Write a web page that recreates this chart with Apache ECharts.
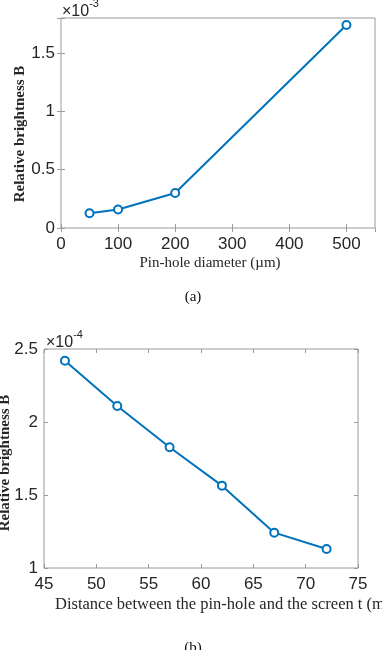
<!DOCTYPE html>
<html>
<head>
<meta charset="utf-8">
<script src="https://cdn.jsdelivr.net/npm/echarts@6/dist/echarts.min.js"></script>
<style>
html, body { margin: 0; padding: 0; background: #fff; }
#chart { width: 382px; height: 650px; }
</style>
</head>
<body>
<div id="chart"></div>
<script>
// (a) values in units of 1e-3
var diameters = [50, 100, 200, 500];
var brightA = [0.127, 0.158, 0.30, 1.74];
// (b) values in units of 1e-4
var distances = [47, 52, 57, 62, 67, 72];
var brightB = [2.42, 2.11, 1.827, 1.564, 1.242, 1.13];

var blue = "#0072BD";
var boxGray = "#9a9a9a";
var labelColor = "#262626";
var serif = "Liberation Serif";
var sans = "Liberation Sans";

function pairs(xs, ys) {
    var out = [];
    for (var i = 0; i < xs.length; i++) out.push([xs[i], ys[i]]);
    return out;
}

function xAxisOf(grid, min, max, interval, top, showMax) {
    return {
        type: "value", gridIndex: grid, min: min, max: max, interval: interval,
        position: top ? "top" : "bottom",
        axisLine: { show: false },
        splitLine: { show: false },
        axisTick: { show: true, inside: true, length: 4, lineStyle: { color: boxGray } },
        axisLabel: {
            show: !top, color: labelColor, fontFamily: sans, fontSize: 17, margin: 8,
            showMaxLabel: showMax
        }
    };
}

function yAxisOf(grid, min, max, interval, right) {
    return {
        type: "value", gridIndex: grid, min: min, max: max, interval: interval,
        position: right ? "right" : "left",
        axisLine: { show: false },
        splitLine: { show: false },
        axisTick: { show: true, inside: true, length: 4, lineStyle: { color: boxGray } },
        axisLabel: {
            show: !right, color: labelColor, fontFamily: sans, fontSize: 17, margin: 6,
            formatter: function (v) {
                if (Math.abs(v - max) < 1e-9 && (max / interval) % 1 !== 0) return "";
                return String(Math.round(v * 100) / 100);
            }
        }
    };
}

var lineSeries = function (xi, yi, data) {
    return {
        type: "line", xAxisIndex: xi, yAxisIndex: yi, data: data,
        symbol: "circle", symbolSize: 8,
        lineStyle: { color: blue, width: 2 },
        itemStyle: { color: "#fff", borderColor: blue, borderWidth: 2 }
    };
};

var chart = echarts.init(document.getElementById("chart"));
chart.setOption({
    animation: false,
    grid: [
        { left: 61, top: 18, width: 314, height: 210, show: true, borderColor: boxGray, borderWidth: 1 },
        { left: 44, top: 349, width: 314, height: 219, show: true, borderColor: boxGray, borderWidth: 1 }
    ],
    xAxis: [
        xAxisOf(0, 0, 550, 100, false, false),
        xAxisOf(0, 0, 550, 100, true, false),
        xAxisOf(1, 45, 75, 5, false, true),
        xAxisOf(1, 45, 75, 5, true, true)
    ],
    yAxis: [
        yAxisOf(0, 0, 1.8, 0.5, false),
        yAxisOf(0, 0, 1.8, 0.5, true),
        yAxisOf(1, 1, 2.5, 0.5, false),
        yAxisOf(1, 1, 2.5, 0.5, true)
    ],
    series: [
        lineSeries(0, 0, pairs(diameters, brightA)),
        lineSeries(2, 2, pairs(distances, brightB))
    ],
    graphic: [
        {
            type: "text", left: 62, top: -2,
            style: {
                text: "{a|×10}{s|-3}", fill: labelColor,
                rich: {
                    a: { fontFamily: sans, fontSize: 16, fill: labelColor, padding: [6, 0, 0, 0] },
                    s: { fontFamily: sans, fontSize: 11, fill: labelColor, verticalAlign: "top" }
                }
            }
        },
        {
            type: "text", left: 46, top: 329,
            style: {
                text: "{a|×10}{s|-4}", fill: labelColor,
                rich: {
                    a: { fontFamily: sans, fontSize: 16, fill: labelColor, padding: [6, 0, 0, 0] },
                    s: { fontFamily: sans, fontSize: 11, fill: labelColor, verticalAlign: "top" }
                }
            }
        },
        {
            type: "text", x: 20, y: 134, rotation: Math.PI / 2,
            style: {
                text: "Relative brightness B", fill: labelColor, fontFamily: serif,
                fontSize: 15, fontWeight: "bold", align: "center", verticalAlign: "middle"
            }
        },
        {
            type: "text", x: 5, y: 463, rotation: Math.PI / 2,
            style: {
                text: "Relative brightness B", fill: labelColor, fontFamily: serif,
                fontSize: 15, fontWeight: "bold", align: "center", verticalAlign: "middle"
            }
        },
        {
            type: "text", x: 210, y: 263,
            style: {
                text: "Pin-hole diameter (µm)", fill: labelColor, fontFamily: serif,
                fontSize: 15, align: "center", verticalAlign: "middle"
            }
        },
        {
            type: "text", x: 55, y: 605,
            style: {
                text: "Distance between the pin-hole and the screen t (mm)", fill: labelColor,
                fontFamily: serif, fontSize: 16.5, align: "left", verticalAlign: "middle"
            }
        },
        {
            type: "text", x: 193, y: 297,
            style: { text: "(a)", fill: "#111", fontFamily: serif, fontSize: 15, align: "center", verticalAlign: "middle" }
        },
        {
            type: "text", x: 193, y: 648,
            style: { text: "(b)", fill: "#111", fontFamily: serif, fontSize: 15, align: "center", verticalAlign: "middle" }
        }
    ]
});
</script>
</body>
</html>
